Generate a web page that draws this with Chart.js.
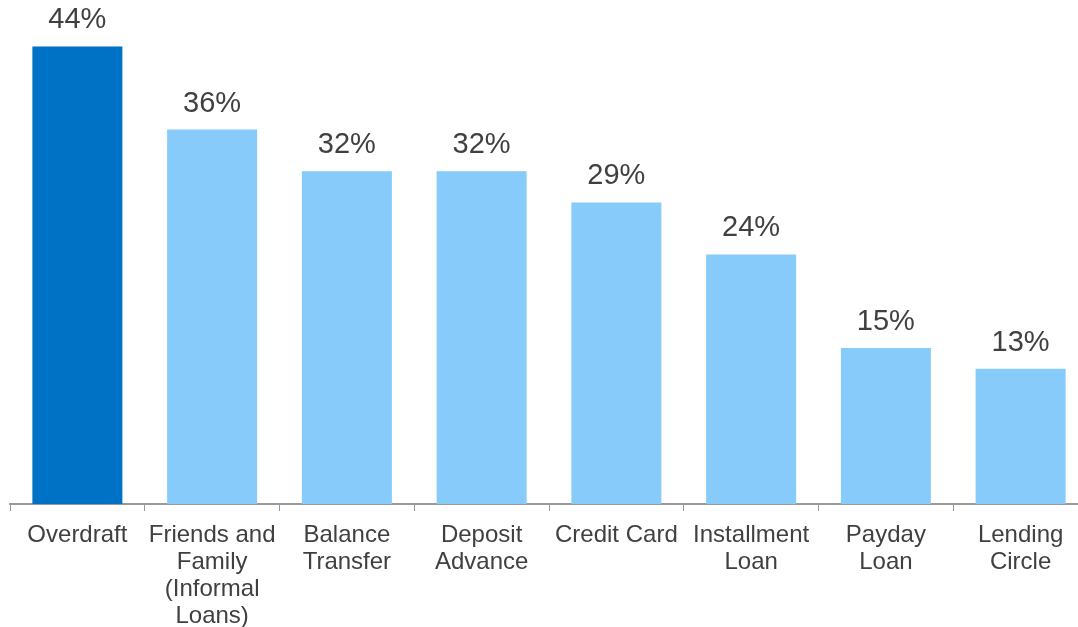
<!DOCTYPE html>
<html>
<head>
<meta charset="utf-8">
<script src="https://cdn.jsdelivr.net/npm/chart.js@4/dist/chart.umd.min.js"></script>
<style>
  html, body { margin: 0; padding: 0; overflow: hidden; background: #fff; }
  #wrap { width: 1088px; height: 627px; position: relative; }
</style>
</head>
<body>
<div id="wrap"><canvas id="myChart"></canvas></div>
<script>
const labels = [
  "Overdraft",
  ["Friends and", "Family", "(Informal", "Loans)"],
  ["Balance", "Transfer"],
  ["Deposit", "Advance"],
  "Credit Card",
  ["Installment", "Loan"],
  ["Payday", "Loan"],
  ["Lending", "Circle"],
];
const values = [44, 36, 32, 32, 29, 24, 15, 13];
const colors = ["#0072C6", "#86CBFA", "#86CBFA", "#86CBFA", "#86CBFA", "#86CBFA", "#86CBFA", "#86CBFA"];

// draws "44%" etc. above each bar
const topLabels = {
  id: "topLabels",
  afterDatasetsDraw(chart) {
    const ctx = chart.ctx;
    const meta = chart.getDatasetMeta(0);
    ctx.save();
    ctx.font = "29px 'Liberation Sans', Arial, sans-serif";
    ctx.fillStyle = "#404040";
    ctx.textAlign = "center";
    ctx.textBaseline = "alphabetic";
    meta.data.forEach((bar, i) => {
      ctx.fillText(values[i] + "%", bar.x, bar.y - 18);
    });
    ctx.restore();
  },
};

const ctx = document.getElementById("myChart");
new Chart(ctx, {
  type: "bar",
  data: {
    labels: labels,
    datasets: [
      {
        data: values,
        backgroundColor: colors,
        borderWidth: 0,
        barPercentage: 0.668,
        categoryPercentage: 1,
      },
    ],
  },
  plugins: [topLabels],
  options: {
    responsive: true,
    maintainAspectRatio: false,
    animation: false,
    layout: { padding: { left: 10, right: 0, top: 0, bottom: 0 } },
    plugins: {
      legend: { display: false },
      tooltip: { enabled: false },
    },
    scales: {
      x: {
        offset: true,
        grid: {
          offset: true,
          drawOnChartArea: false,
          drawTicks: true,
          tickLength: 7,
          color: "#9a9a9a",
        },
        border: { display: true, color: "#9a9a9a", width: 2 },
        ticks: {
          color: "#404040",
          font: { family: "'Liberation Sans', Arial, sans-serif", size: 24, lineHeight: 1.125 },
          padding: 11,
          maxRotation: 0,
          autoSkip: false,
        },
        afterFit(scale) {
          scale.height = 123;
        },
      },
      y: {
        display: false,
        min: 0,
        max: 48.46,
      },
    },
  },
});
</script>
</body>
</html>
